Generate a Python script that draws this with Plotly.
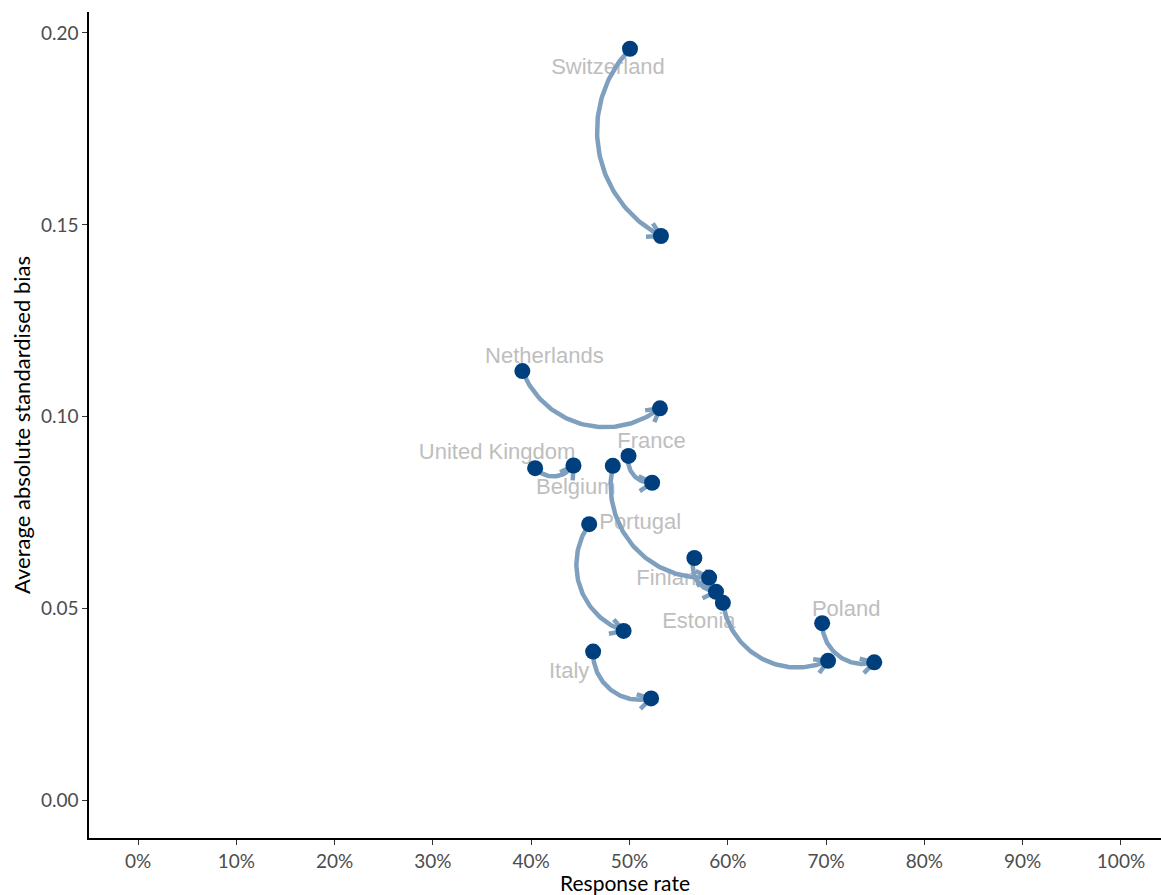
import numpy as np
import plotly.graph_objects as go

# Response rate and average absolute standardised bias, before -> after
countries = ["Switzerland", "Netherlands", "United Kingdom", "France", "Belgium",
             "Portugal", "Finland", "Estonia", "Poland", "Italy"]
rate_start = [0.5005, 0.391, 0.404, 0.499, 0.483, 0.459, 0.566, 0.595, 0.696, 0.463]
rate_end = [0.532, 0.531, 0.443, 0.523, 0.581, 0.494, 0.588, 0.702, 0.749, 0.522]
bias_start = [0.1959, 0.1119, 0.0866, 0.0898, 0.0872, 0.0720, 0.0632, 0.0515, 0.0462, 0.0388]
bias_end = [0.1471, 0.1022, 0.0873, 0.0828, 0.0581, 0.0442, 0.0544, 0.0364, 0.0360, 0.0266]

x_ticks = [i / 10 for i in range(11)]
y_ticks = [0.00, 0.05, 0.10, 0.15, 0.20]

# label nudges in pixels (dx right, dy down), relative to the starting point
label_nudge = [(-22, 20), (22, -14), (-38, -15), (23, -13), (-37, 23),
               (51, -1), (-22, 22), (-24, 20), (24, -13), (-24, 21)]

# layout geometry
W, H = 1161, 895
M_L, M_R, M_T, M_B = 89, 0, 12, 57
PW, PH = W - M_L - M_R, H - M_T - M_B
X_RANGE = [-0.04985, 1.0407]
Y_RANGE = [-0.00977, 0.20547]
SX = PW / (X_RANGE[1] - X_RANGE[0])
SY = PH / (Y_RANGE[1] - Y_RANGE[0])

POINT_COL = "#003F7D"
CURVE_COL = "#7F9FBF"
LABEL_COL = "#BEBEBE"


def to_px(x, y):
    return np.array([(x - X_RANGE[0]) * SX, (Y_RANGE[1] - y) * SY])


def to_data(p):
    return p[0] / SX + X_RANGE[0], Y_RANGE[1] - p[1] / SY


def curve_px(p0, p1, bend=0.25, n=80):
    """Circular arc from p0 to p1 in screen space, bulging to the right of travel."""
    d = p1 - p0
    L = np.hypot(*d)
    nrm = np.array([-d[1], d[0]]) / L
    s = bend * L
    R = (s ** 2 + (L / 2) ** 2) / (2 * s)
    mid = (p0 + p1) / 2
    c = mid - nrm * (R - s)
    a0 = np.arctan2(*(p0 - c)[::-1])
    a1 = np.arctan2(*(p1 - c)[::-1])
    da = (a1 - a0 + np.pi) % (2 * np.pi) - np.pi
    t = np.linspace(0, 1, n)
    ang = a0 + da * t
    pts = np.stack([c[0] + R * np.cos(ang), c[1] + R * np.sin(ang)], axis=1)
    # tangent at the end, pointing along travel
    tang = np.array([-np.sin(a1), np.cos(a1)]) * np.sign(da)
    return pts, tang


fig = go.Figure()

# labels (drawn underneath the arrows)
lab_x, lab_y = [], []
for xs, ys, (dx, dy) in zip(rate_start, bias_start, label_nudge):
    p = to_px(xs, ys) + np.array([dx, dy])
    lx, ly = to_data(p)
    lab_x.append(lx)
    lab_y.append(ly)
fig.add_trace(go.Scatter(
    x=lab_x, y=lab_y, mode="text", text=countries,
    textposition="middle center",
    textfont=dict(family="Liberation Sans, Arial, sans-serif", size=22, color=LABEL_COL),
    hoverinfo="skip", showlegend=False))

# curved arrows
cx, cy, hx, hy = [], [], [], []
head_len, head_ang = 15, np.radians(30)
for xs, ys, xe, ye in zip(rate_start, bias_start, rate_end, bias_end):
    p0, p1 = to_px(xs, ys), to_px(xe, ye)
    pts, tang = curve_px(p0, p1)
    for q in pts:
        x, y = to_data(q)
        cx.append(x)
        cy.append(y)
    cx.append(None)
    cy.append(None)
    back = -tang
    arms = []
    for sgn in (1, -1):
        a = sgn * head_ang
        rot = np.array([[np.cos(a), -np.sin(a)], [np.sin(a), np.cos(a)]])
        arms.append(p1 + head_len * rot @ back)
    for q in (arms[0], p1, arms[1]):
        x, y = to_data(q)
        hx.append(x)
        hy.append(y)
    hx.append(None)
    hy.append(None)

fig.add_trace(go.Scatter(x=cx, y=cy, mode="lines",
                         line=dict(color=CURVE_COL, width=4.5),
                         hoverinfo="skip", showlegend=False))
fig.add_trace(go.Scatter(x=hx, y=hy, mode="lines",
                         line=dict(color=CURVE_COL, width=4.5),
                         hoverinfo="skip", showlegend=False))

# points
fig.add_trace(go.Scatter(
    x=rate_start + rate_end, y=bias_start + bias_end, mode="markers",
    marker=dict(size=16, color=POINT_COL, line=dict(width=0)),
    showlegend=False))

axis_font = dict(family="Lato, Open Sans, sans-serif", size=19, color="#4D4D4D")
x_title_font = dict(family="Lato, Open Sans, sans-serif", size=21, color="#000000")
y_title_font = dict(family="Lato, Open Sans, sans-serif", size=22, color="#000000")

fig.update_layout(
    width=W, height=H,
    margin=dict(l=M_L, r=M_R, t=M_T, b=M_B),
    paper_bgcolor="white", plot_bgcolor="white",
    xaxis=dict(range=X_RANGE, tickvals=x_ticks, tickformat=".0%",
               showgrid=False, zeroline=False, showline=True,
               linecolor="black", linewidth=1.5, ticks="outside",
               ticklen=5, tickcolor="#333333", tickwidth=1,
               tickfont=axis_font,
               title=dict(text="Response rate", font=x_title_font, standoff=2)),
    yaxis=dict(range=Y_RANGE, tickvals=y_ticks, tickformat=".2f",
               showgrid=False, zeroline=False, showline=True,
               linecolor="black", linewidth=1.5, ticks="outside",
               ticklen=5, tickcolor="#333333", tickwidth=1,
               tickfont=axis_font,
               title=dict(text="Average absolute standardised bias",
                          font=y_title_font, standoff=4)),
)

fig.write_html("out.html")
